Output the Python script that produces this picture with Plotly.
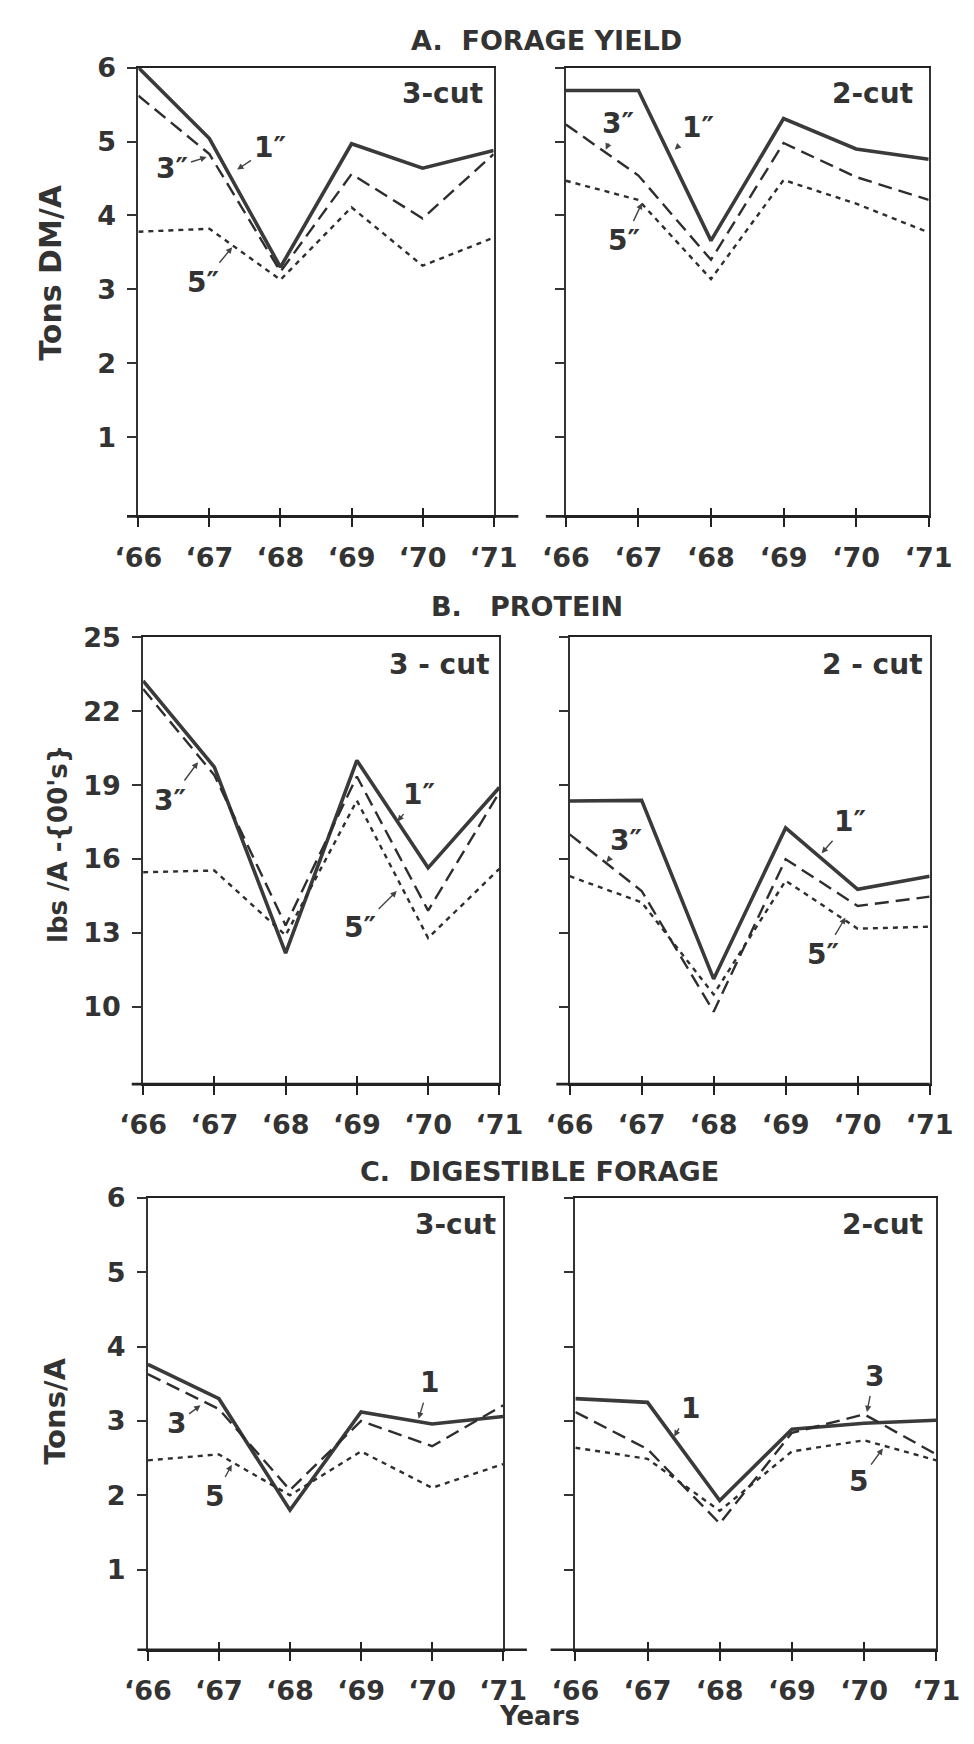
import plotly.graph_objects as go

# page is 974x1744; the browser's default 8px body margin offsets the figure
PAGE_W, PAGE_H = 974, 1744
OFF = 8
W, H = PAGE_W - 2 * OFF, PAGE_H - 2 * OFF

years = [1966, 1967, 1968, 1969, 1970, 1971]
year_labels = ["‘66", "‘67", "‘68", "‘69", "‘70", "‘71"]

# A. Forage yield (tons DM/A)
A3_1in = [6.00, 5.04, 3.30, 4.97, 4.64, 4.88]
A3_3in = [5.62, 4.83, 3.24, 4.56, 3.96, 4.83]
A3_5in = [3.78, 3.82, 3.13, 4.11, 3.32, 3.70]
A2_1in = [5.69, 5.69, 3.66, 5.31, 4.90, 4.76]
A2_3in = [5.23, 4.54, 3.40, 4.98, 4.52, 4.21]
A2_5in = [4.47, 4.21, 3.14, 4.48, 4.16, 3.77]

# B. Protein (lbs/A, 00's)
B3_1in = [23.23, 19.73, 12.18, 20.00, 15.64, 18.90]
B3_3in = [22.90, 19.40, 13.30, 19.35, 13.90, 18.70]
B3_5in = [15.46, 15.53, 12.90, 18.37, 12.79, 15.60]
B2_1in = [18.35, 18.38, 11.13, 17.26, 14.77, 15.30]
B2_3in = [17.00, 14.70, 9.80, 15.99, 14.09, 14.47]
B2_5in = [15.30, 14.24, 10.50, 15.12, 13.17, 13.25]

# C. Digestible forage (tons/A)
C3_1in = [3.76, 3.30, 1.80, 3.12, 2.96, 3.06]
C3_3in = [3.63, 3.16, 2.07, 3.00, 2.66, 3.21]
C3_5in = [2.47, 2.55, 2.00, 2.59, 2.10, 2.42]
C2_1in = [3.30, 3.25, 1.93, 2.89, 2.97, 3.01]
C2_3in = [3.12, 2.62, 1.62, 2.84, 3.09, 2.55]
C2_5in = [2.64, 2.49, 1.79, 2.59, 2.74, 2.47]

A_ticks = [1, 2, 3, 4, 5, 6]
B_ticks = [10, 13, 16, 19, 22, 25]
C_ticks = [1, 2, 3, 4, 5, 6]

INK = "#333333"
FONT = "DejaVu Sans"

def px(x):
    return (x - OFF) / W

def py(y):
    return 1 - (y - OFF) / H

def bold(size):
    return dict(size=size, family=FONT, color=INK, weight="bold")

# panel geometry in page pixels: (left, right, top, bottom), baseline start/end
panels = [
    dict(series=(A3_1in, A3_3in, A3_5in), box=(120, 494, 52, 505), ext=(108, 520),
         yr=[-0.07, 6], ticks=A_ticks, labels=True, cut="3-cut", cutpos=(440, 78)),
    dict(series=(A2_1in, A2_3in, A2_5in), box=(570, 952, 52, 505), ext=(549, 952),
         yr=[-0.07, 6], ticks=A_ticks, labels=False, cut="2-cut", cutpos=(893, 78)),
    dict(series=(B3_1in, B3_3in, B3_5in), box=(125, 500, 627, 1078), ext=(113, 500),
         yr=[6.86, 25], ticks=B_ticks, labels=True, cut="3 - cut", cutpos=(437, 654)),
    dict(series=(B2_1in, B2_3in, B2_5in), box=(574, 953, 627, 1078), ext=(560, 953),
         yr=[6.86, 25], ticks=B_ticks, labels=False, cut="2 - cut", cutpos=(893, 654)),
    dict(series=(C3_1in, C3_3in, C3_5in), box=(130, 504, 1193, 1649), ext=(119, 529),
         yr=[-0.08, 6], ticks=C_ticks, labels=True, cut="3-cut", cutpos=(454, 1220)),
    dict(series=(C2_1in, C2_3in, C2_5in), box=(580, 960, 1193, 1649), ext=(554, 960),
         yr=[-0.08, 6], ticks=C_ticks, labels=False, cut="2-cut", cutpos=(903, 1220)),
]

styles = [
    dict(color="#3a3a3a", width=3.6, dash="solid"),
    dict(color="#2e2e2e", width=2.4, dash="14px,7px"),
    dict(color="#2e2e2e", width=2.4, dash="5px,5px"),
]

# arrow labels: (panel index, text, tip x (year), tip y (value), ax, ay)
arrow_labels = [
    (0, "1″", 1967.39, 4.62, 33, -22),
    (0, "3″", 1966.96, 4.79, -35, 11),
    (0, "5″", 1967.32, 3.57, -29, 35),
    (1, "1″", 1967.50, 4.89, 23, -22),
    (1, "3″", 1966.55, 4.89, 12, -26),
    (1, "5″", 1967.05, 4.17, -18, 38),
    (2, "3″", 1966.77, 19.93, -28, 38),
    (2, "1″", 1969.57, 17.52, 22, -27),
    (2, "5″", 1969.56, 14.70, -37, 37),
    (3, "3″", 1966.51, 15.87, 20, -22),
    (3, "1″", 1969.50, 16.23, 28, -32),
    (3, "5″", 1969.83, 13.62, -22, 37),
    (4, "1", 1969.81, 3.03, 11, -36),
    (4, "3", 1966.74, 3.21, -24, 18),
    (4, "5", 1967.18, 2.41, -17, 32),
    (5, "1", 1967.37, 2.79, 16, -28),
    (5, "3", 1970.04, 3.12, 7, -36),
    (5, "5", 1970.26, 2.63, -24, 33),
]

fig = go.Figure()
layout = dict(
    width=W, height=H, margin=dict(l=0, r=0, t=0, b=0),
    paper_bgcolor="white", plot_bgcolor="white", showlegend=False,
    font=bold(26),
)
annotations = []
shapes = []

for i, p in enumerate(panels):
    n = i + 1
    xa = "x" if n == 1 else f"x{n}"
    ya = "y" if n == 1 else f"y{n}"
    l, r, t, b = p["box"]
    for vals, st in zip(p["series"], styles):
        fig.add_trace(go.Scatter(x=years, y=vals, mode="lines", xaxis=xa, yaxis=ya,
                                 line=dict(color=st["color"], width=st["width"], dash=st["dash"]),
                                 hoverinfo="skip"))
    layout[f"xaxis{'' if n == 1 else n}"] = dict(
        domain=[px(l), px(r)], anchor=ya, range=[1966, 1971],
        tickvals=years, ticktext=year_labels, ticks="outside", ticklen=9, tickwidth=2,
        tickcolor="#222", showline=True, linecolor="#222", linewidth=2, mirror=True,
        showgrid=False, zeroline=False, ticklabelstandoff=7,
        tickfont=bold(27),
    )
    layout[f"yaxis{'' if n == 1 else n}"] = dict(
        domain=[py(b), py(t)], anchor=xa, range=p["yr"],
        tickvals=p["ticks"], ticks="outside", ticklen=9, tickwidth=2, tickcolor="#333",
        showticklabels=p["labels"], showline=True, linecolor="#333", linewidth=2,
        mirror=True, showgrid=False, zeroline=False, ticklabelstandoff=6,
        tickfont=bold(27),
    )
    # overlay axis drawing the inner half of the crossing x ticks
    m = n + 6
    layout[f"xaxis{m}"] = dict(
        overlaying=xa, anchor=ya, range=[1966, 1971], tickvals=years, ticks="inside",
        ticklen=8, tickwidth=2, tickcolor="#222", showticklabels=False, showline=False,
        showgrid=False, zeroline=False, side="bottom",
    )
    fig.add_trace(go.Scatter(x=[], y=[], xaxis=f"x{m}", yaxis=ya, hoverinfo="skip"))
    # baseline running past the frame
    e0, e1 = p["ext"]
    shapes.append(dict(type="line", xref="paper", yref="paper", x0=px(e0), x1=px(e1),
                       y0=py(b), y1=py(b), line=dict(color="#222", width=2.6)))
    cx, cy = p["cutpos"]
    annotations.append(dict(text=p["cut"], x=px(cx), y=py(cy), xref="paper", yref="paper",
                            xanchor="center", yanchor="middle", showarrow=False,
                            font=bold(28)))

for idx, txt, tx, ty, ax, ay in arrow_labels:
    n = idx + 1
    annotations.append(dict(
        text=txt, x=tx, y=ty, xref="x" if n == 1 else f"x{n}", yref="y" if n == 1 else f"y{n}",
        ax=ax, ay=ay, showarrow=True, arrowhead=2, arrowsize=0.9, arrowwidth=1.4,
        arrowcolor="#444", standoff=0, startstandoff=2,
        xanchor="center", yanchor="middle", font=bold(28),
    ))

titles = [
    ("A.  FORAGE YIELD", 550, 25, 0, 27),
    ("B.   PROTEIN", 529, 596, 0, 27),
    ("C.  DIGESTIBLE FORAGE", 542, 1166, 0, 27),
    ("Years", 542, 1716, 0, 26),
    ("Tons DM/A", 28, 259, -90, 30),
    ("lbs /A -{00's}", 36, 836, -90, 26),
    ("Tons/A", 32, 1408, -90, 29),
]
for txt, x, y, ang, size in titles:
    annotations.append(dict(text=txt, x=px(x), y=py(y), xref="paper", yref="paper",
                            xanchor="center", yanchor="middle", showarrow=False,
                            textangle=ang, font=bold(size)))

layout["annotations"] = annotations
layout["shapes"] = shapes
fig.update_layout(**layout)
fig.write_html("out.html")
